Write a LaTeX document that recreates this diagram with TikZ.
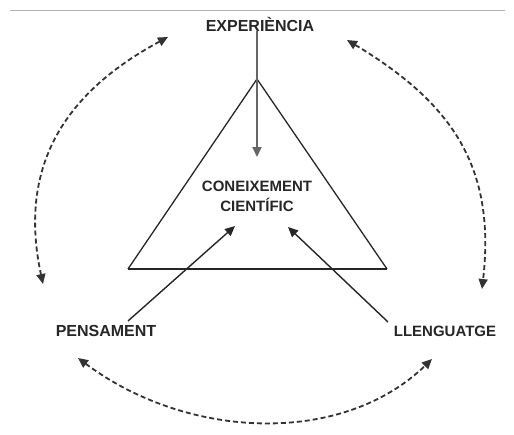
\documentclass[tikz,border=0pt]{standalone}
\usepackage{fontspec}
\setmainfont{Liberation Sans}
\usetikzlibrary{arrows.meta}
\begin{document}
\begin{tikzpicture}[x=1pt,y=-1pt,
  lbl/.style={font=\bfseries\fontsize{16}{20}\selectfont, text=black!85, inner sep=0pt},
  tri/.style={draw=black!85, line width=1.3pt},
  base/.style={draw=black!85, line width=2.6pt},
  solidarrow/.style={draw=black!85, line width=1.4pt, -{Triangle[length=10pt,width=9pt]}},
  greyarrow/.style={draw=black!60, line width=2pt, -{Triangle[length=10pt,width=9pt]}},
  dasharrow/.style={draw=black!80, line width=1.8pt, dash pattern=on 5pt off 3pt,
     {Triangle[length=10pt,width=9pt]}-{Triangle[length=10pt,width=9pt]}}]
\useasboundingbox (0,0) rectangle (514,434);
\draw[black!30, line width=0.8pt] (10,10) -- (505,10);

% labels
\node[lbl, anchor=base] (exp) at (260,31) {EXPERIÈNCIA};
\node[lbl, align=center, font=\bfseries\fontsize{15}{20}\selectfont] (con) at (257,196) {CONEIXEMENT\\CIENTÍFIC};
\node[lbl, anchor=base] (pen) at (106,336) {PENSAMENT};
\node[lbl, anchor=base, font=\bfseries\fontsize{15}{20}\selectfont] (llen) at (445,336) {LLENGUATGE};

% triangle
\coordinate (apex) at (257,79);
\coordinate (bl) at (128,269);
\coordinate (br) at (387,269);
\draw[tri] (bl) -- (apex) -- (br);
\draw[base] (bl) -- (br);

% arrows into the centre
\coordinate (tv) at (257,157);
\draw[greyarrow] (exp.south -| apex) -- (tv);
\coordinate (ps) at (128,321);
\coordinate (pt) at (235,226);
\draw[solidarrow] (ps) -- (pt);
\coordinate (ls) at (388,322);
\coordinate (lt) at (288,227);
\draw[solidarrow] (ls) -- (lt);

% dashed arcs
\coordinate (a1) at (168,37);
\coordinate (a2) at (43,284);
\draw[dasharrow] (a1) .. controls (68,91) and (17,163) .. (a2);
\coordinate (b1) at (347,40);
\coordinate (b2) at (482,289);
\draw[dasharrow] (b1) .. controls (452,103) and (496,167) .. (b2);
\coordinate (c1) at (78,358);
\coordinate (c2) at (432,359);
\draw[dasharrow] (c1) .. controls (188,440) and (342,446) .. (c2);
\end{tikzpicture}
\end{document}
